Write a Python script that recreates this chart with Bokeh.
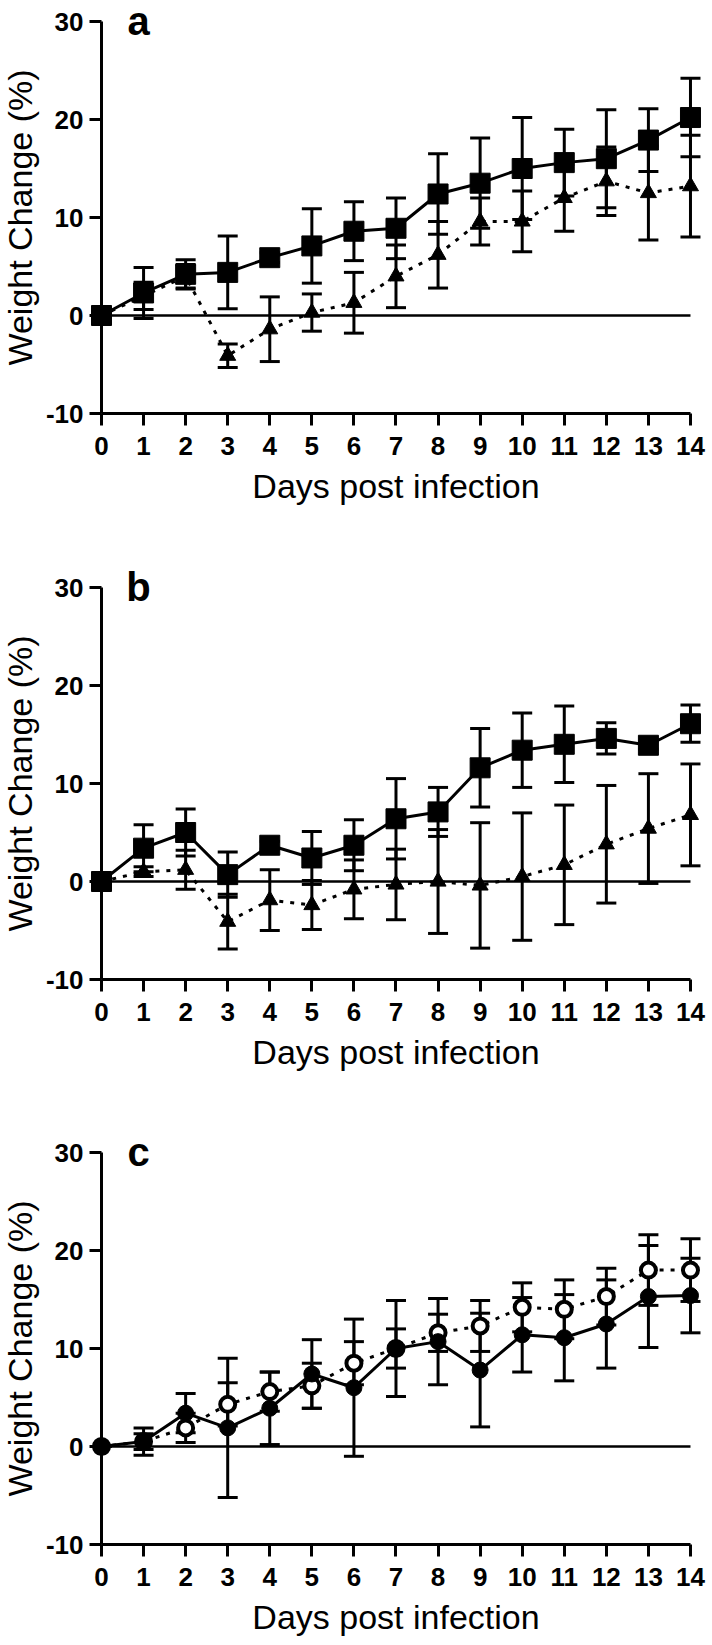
from bokeh.plotting import figure
from bokeh.models import (Range1d, LinearAxis, FixedTicker, Whisker, TeeHead,
                          ColumnDataSource, Label, CustomJSTickFormatter)
from bokeh.layouts import column
from bokeh.embed import file_html
from bokeh.resources import INLINE

# ---------------- data ----------------
days = list(range(15))
y_ticks = [-10, 0, 10, 20, 30]
x_title = "Days post infection"
y_title = "Weight Change (%)"

# panel a
a_sq_mean = [0, 2.3, 4.2, 4.4, 5.9, 7.1, 8.6, 8.9, 12.4, 13.5, 15.0, 15.6, 16.0, 17.9, 20.2]
a_sq_sd = [0, 2.6, 1.5, 3.7, 0.5, 3.8, 3.0, 3.1, 4.1, 4.6, 5.2, 3.4, 5.0, 3.2, 4.0]
a_tri_mean = [0, 2.0, 4.0, -4.1, -1.4, 0.3, 1.3, 4.0, 6.2, 9.6, 9.6, 12.0, 13.7, 12.5, 13.2]
a_tri_sd = [0, 1.4, 1.2, 1.2, 3.3, 1.9, 3.1, 3.2, 3.4, 2.4, 3.1, 3.4, 3.5, 4.8, 5.2]

# panel b
b_sq_mean = [0, 3.4, 5.0, 0.7, 3.7, 2.4, 3.7, 6.4, 7.1, 11.6, 13.4, 14.0, 14.6, 13.9, 16.1]
b_sq_sd = [0, 2.4, 2.4, 2.3, 0.4, 2.7, 2.6, 4.1, 2.5, 4.0, 3.8, 3.9, 1.6, 0.4, 1.9]
b_tri_mean = [0, 1.0, 1.2, -4.1, -1.9, -2.4, -0.8, -0.3, 0.0, -0.4, 0.5, 1.7, 3.8, 5.4, 6.8]
b_tri_sd = [0, 0.5, 2.0, 2.8, 3.1, 2.5, 3.0, 3.6, 5.3, 6.4, 6.5, 6.1, 6.0, 5.6, 5.2]

# panel c
c_fill_mean = [0, 0.5, 3.4, 1.9, 3.9, 7.4, 6.0, 10.0, 10.7, 7.8, 11.4, 11.1, 12.5, 15.3, 15.4]
c_fill_sd = [0, 1.4, 2.0, 7.1, 3.7, 3.5, 7.0, 4.9, 4.4, 5.8, 3.8, 4.4, 4.5, 5.2, 3.8]
c_open_mean = [0, 0.5, 1.9, 4.3, 5.6, 6.2, 8.5, 10.0, 11.6, 12.3, 14.2, 14.0, 15.3, 18.0, 18.0]
c_open_sd = [0, 0.8, 1.5, 2.2, 2.0, 2.3, 2.2, 2.0, 1.9, 2.6, 2.5, 3.0, 2.9, 3.6, 3.2]

FONT = "Liberation Sans"

# layout constants (pixels)
W = 712
PX_PER_DAY = 42.07
AXIS_X_PX = 101          # where day 0 sits
PX_PER_UNIT = 9.8


def src(mean, sd):
    return ColumnDataSource(dict(
        x=days, y=mean,
        upper=[m + s for m, s in zip(mean, sd)],
        lower=[m - s for m, s in zip(mean, sd)],
    ))


def add_err(p, s):
    w = Whisker(base="x", upper="upper", lower="lower", source=s,
                line_color="black", line_width=3,
                upper_head=TeeHead(size=20, line_width=3, line_color="black"),
                lower_head=TeeHead(size=20, line_width=3, line_color="black"))
    p.add_layout(w)


def make_panel(letter, height, top_px):
    x0 = days[0] - AXIS_X_PX / PX_PER_DAY
    x1 = x0 + W / PX_PER_DAY
    y1 = y_ticks[-1] + top_px / PX_PER_UNIT
    y0 = y1 - height / PX_PER_UNIT
    p = figure(width=W, height=height,
               x_range=Range1d(x0, x1), y_range=Range1d(y0, y1),
               output_backend="svg", toolbar_location=None,
               x_axis_location=None, y_axis_location=None,
               min_border=0, min_border_left=0, min_border_right=0,
               min_border_top=0, min_border_bottom=0)
    p.outline_line_color = None
    p.grid.visible = False
    p.background_fill_color = "white"
    p.border_fill_color = "white"

    fmt = CustomJSTickFormatter(code="return tick.toString()")
    xa = LinearAxis(fixed_location=y_ticks[0], bounds=(days[0], days[-1]),
                    ticker=FixedTicker(ticks=days), axis_label=x_title,
                    formatter=fmt)
    ya = LinearAxis(fixed_location=days[0], bounds=(y_ticks[0], y_ticks[-1]),
                    ticker=FixedTicker(ticks=y_ticks), axis_label=y_title,
                    formatter=fmt)
    for ax in (xa, ya):
        ax.axis_line_width = 3
        ax.axis_line_color = "black"
        ax.major_tick_line_width = 3
        ax.major_tick_line_color = "black"
        ax.major_tick_out = 12
        ax.major_tick_in = 0
        ax.minor_tick_line_color = None
        ax.major_label_text_font = FONT
        ax.major_label_text_font_style = "bold"
        ax.major_label_text_font_size = "26px"
        ax.major_label_text_color = "black"
        ax.axis_label_text_font = FONT
        ax.axis_label_text_font_style = "normal"
        ax.axis_label_text_color = "black"
        ax.axis_label_text_font_size = "34px"
    xa.major_label_standoff = 11
    xa.axis_label_standoff = 9
    ya.major_label_standoff = 6
    ya.axis_label_standoff = 4
    p.add_layout(xa, "below")
    p.add_layout(ya, "left")

    # zero reference line from first to last day
    p.line(x=[days[0], days[-1]], y=[0, 0], line_color="black", line_width=2.5)

    p.add_layout(Label(x=0.88, y=30.1, text=letter, text_font=FONT,
                       text_font_style="bold", text_font_size="40px",
                       text_align="center", text_baseline="middle",
                       text_color="black"))
    return p


# panel a
pa = make_panel("a", 566, 21)
sa1 = src(a_sq_mean, a_sq_sd)
sa2 = src(a_tri_mean, a_tri_sd)
add_err(pa, sa2)
add_err(pa, sa1)
pa.line("x", "y", source=sa2, line_color="black", line_width=3, line_dash="4 7")
pa.line("x", "y", source=sa1, line_color="black", line_width=3)
pa.scatter("x", "y", source=sa2, marker="triangle", size=16, color="black")
pa.scatter("x", "y", source=sa1, marker="square", size=20, color="black")

# panel b
pb = make_panel("b", 560, 21)
sb1 = src(b_sq_mean, b_sq_sd)
sb2 = src(b_tri_mean, b_tri_sd)
add_err(pb, sb2)
add_err(pb, sb1)
pb.line("x", "y", source=sb2, line_color="black", line_width=3, line_dash="4 7")
pb.line("x", "y", source=sb1, line_color="black", line_width=3)
pb.scatter("x", "y", source=sb2, marker="triangle", size=16, color="black")
pb.scatter("x", "y", source=sb1, marker="square", size=20, color="black")

# panel c
pc = make_panel("c", 518, 26)
sc1 = src(c_fill_mean, c_fill_sd)
sc2 = src(c_open_mean, c_open_sd)
add_err(pc, sc2)
add_err(pc, sc1)
pc.line("x", "y", source=sc2, line_color="black", line_width=3, line_dash="4 7")
pc.line("x", "y", source=sc1, line_color="black", line_width=3)
pc.scatter("x", "y", source=sc2, marker="circle", size=15, fill_color="white",
           line_color="black", line_width=4)
pc.scatter("x", "y", source=sc1, marker="circle", size=16, color="black")

layout = column(pa, pb, pc, spacing=0)
open("out.html", "w").write(file_html(layout, INLINE))
